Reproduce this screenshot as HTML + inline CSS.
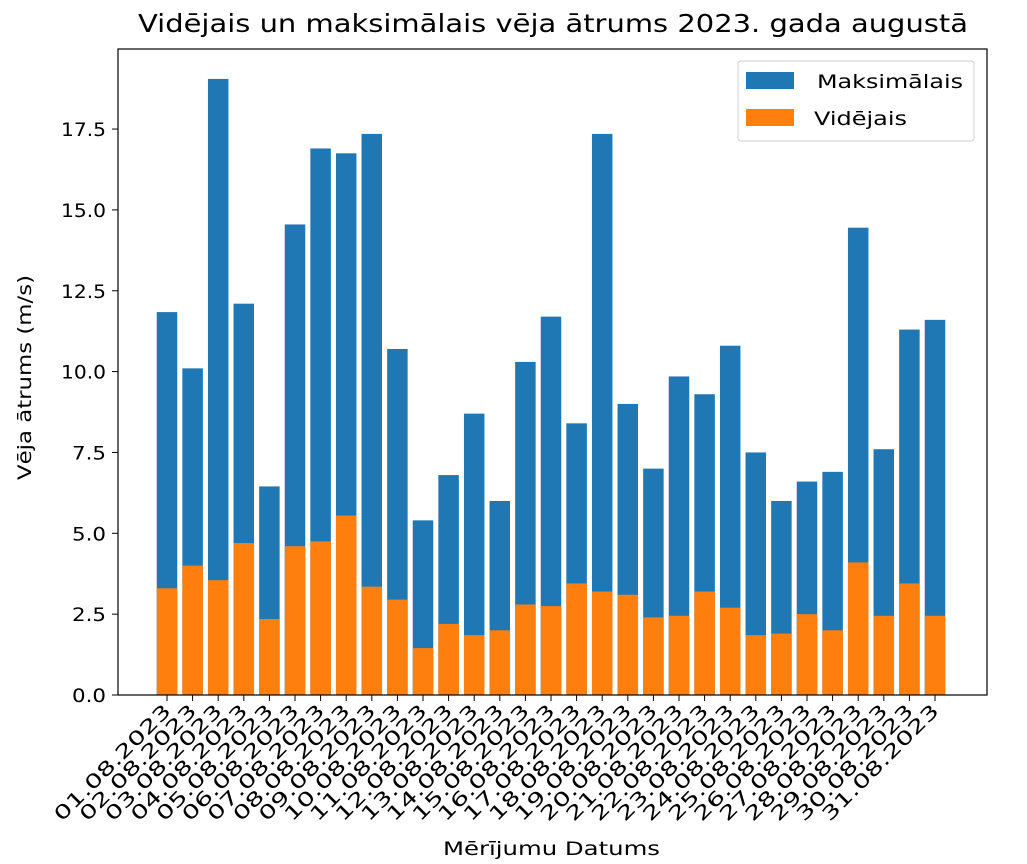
<!DOCTYPE html>
<html><head><meta charset="utf-8"><style>body{margin:0;background:#fff}svg{display:block}text{font-family:"DejaVu Sans","Liberation Sans",sans-serif;fill:#000}</style></head>
<body>
<svg id="s" width="1027" height="864" viewBox="0 0 1027 864" xmlns="http://www.w3.org/2000/svg">
<rect width="1027" height="864" fill="#fff"/>
<g id="bars"></g>
<rect x="118" y="49" width="869" height="646" fill="none" stroke="#000" stroke-width="1.2"/>
<g id="ax" font-size="19"></g>
<text x="138" y="32" font-size="25" textLength="830" lengthAdjust="spacingAndGlyphs">Vidējais un maksimālais vēja ātrums 2023. gada augustā</text>
<text x="443" y="855" font-size="19" textLength="217" lengthAdjust="spacingAndGlyphs">Mērījumu Datums</text>
<text transform="translate(31,480) rotate(-90)" font-size="19" textLength="205" lengthAdjust="spacingAndGlyphs">Vēja ātrums (m/s)</text>
<rect x="738" y="61" width="236" height="80" rx="3" fill="#fff" stroke="#ccc" stroke-width="1"/>
<rect x="746" y="72" width="48" height="17" fill="#1f77b4"/>
<rect x="746" y="109" width="48" height="17" fill="#ff7f0e"/>
<text x="817" y="88" font-size="19" textLength="146" lengthAdjust="spacingAndGlyphs">Maksimālais</text>
<text x="814" y="125" font-size="19" textLength="93" lengthAdjust="spacingAndGlyphs">Vidējais</text>
</svg>
<script>
var mx=[11.84,10.1,19.05,12.1,6.45,14.55,16.9,16.75,17.35,10.7,5.4,6.8,8.7,6.0,10.3,11.7,8.4,17.35,9.0,7.0,9.85,9.3,10.8,7.5,6.0,6.6,6.9,14.45,7.6,11.3,11.6];
var av=[3.3,4.0,3.55,4.7,2.35,4.6,4.75,5.55,3.35,2.95,1.45,2.2,1.85,2.0,2.8,2.75,3.45,3.2,3.1,2.4,2.45,3.2,2.7,1.85,1.9,2.5,2.0,4.1,2.45,3.45,2.45];
var y0=695,k=32.34,x0=167,dx=25.6,w=20.5,b='',a='';
for(var i=0;i<31;i++){var cx=x0+i*dx;
b+='<rect x="'+(cx-w/2)+'" y="'+(y0-mx[i]*k)+'" width="'+w+'" height="'+(mx[i]*k)+'" fill="#1f77b4"/>';
b+='<rect x="'+(cx-w/2)+'" y="'+(y0-av[i]*k)+'" width="'+w+'" height="'+(av[i]*k)+'" fill="#ff7f0e"/>';
a+='<line x1="'+cx+'" y1="695" x2="'+cx+'" y2="701" stroke="#000"/>';
var d=(i+1<10?'0':'')+(i+1)+'.08.2023';
a+='<text transform="translate('+(cx+5)+',712) rotate(-45)" text-anchor="end" textLength="156" lengthAdjust="spacingAndGlyphs">'+d+'</text>';}
for(var j=0;j<=7;j++){var v=j*2.5,y=y0-v*k,s=v.toFixed(1);
a+='<line x1="112" y1="'+y+'" x2="118" y2="'+y+'" stroke="#000"/>';
a+='<text x="'+(106-(s.length==3?34:45))+'" y="'+(y+7)+'" textLength="'+(s.length==3?34:45)+'" lengthAdjust="spacingAndGlyphs">'+s+'</text>';}
document.getElementById('bars').innerHTML=b;document.getElementById('ax').innerHTML=a;
</script>
</body></html>
